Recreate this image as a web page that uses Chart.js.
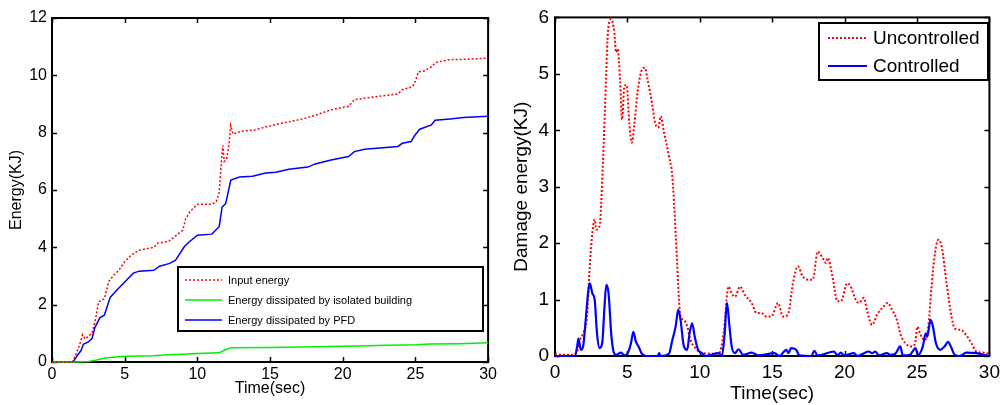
<!DOCTYPE html>
<html>
<head>
<meta charset="utf-8">
<script src="https://cdn.jsdelivr.net/npm/chart.js@4.4.1/dist/chart.umd.min.js"></script>
<style>
    html, body { margin: 0; padding: 0; background: #fff; }
    .box { position: absolute; top: 0; height: 405px; }
    #leftBox { left: 0; width: 500px; }
    #rightBox { left: 500px; width: 505px; }
</style>
</head>
<body>
<div class="box" id="leftBox"><canvas id="energyChart"></canvas></div>
<div class="box" id="rightBox"><canvas id="damageChart"></canvas></div>
<script>
// Left panel: cumulative energy, [time (sec), energy (KJ)]
const inputEnergy = [
    [0, 0], [1.4, 0], [1.6, 0.2], [1.9, 0.6], [2.1, 0.95], [2.3, 0.8], [2.5, 0.9], [2.75, 1.0],
    [3.0, 1.5], [3.2, 2.1], [3.6, 2.2], [3.9, 2.8], [4.2, 3.0], [4.6, 3.2], [5.0, 3.5], [5.5, 3.75],
    [6.0, 3.9], [7.0, 4.0], [7.3, 4.15], [8.0, 4.2], [8.5, 4.4], [9.0, 4.6], [9.2, 5.0], [9.5, 5.25],
    [10.0, 5.5], [11.0, 5.5], [11.3, 5.6], [11.5, 5.9], [11.65, 7.0], [11.75, 7.55], [11.85, 7.0],
    [12.0, 7.05], [12.15, 7.5], [12.3, 8.25], [12.45, 7.95], [13.0, 8.05], [14.0, 8.1], [14.7, 8.2],
    [15.8, 8.33], [17.0, 8.45], [17.9, 8.57], [19.2, 8.8], [20.4, 8.92], [20.8, 9.15], [21.5, 9.2],
    [23.0, 9.3], [23.8, 9.35], [24.1, 9.5], [24.8, 9.6], [25.0, 9.8], [25.2, 10.12], [25.6, 10.15],
    [26.1, 10.3], [26.4, 10.45], [27.4, 10.55], [28.0, 10.55], [30, 10.6]
];
const buildingEnergy = [
    [0, 0], [1.5, 0], [2.5, 0.02], [3.0, 0.06], [3.5, 0.12], [4.0, 0.16], [5.0, 0.2], [6.0, 0.21],
    [7.0, 0.22], [8.0, 0.25], [9.0, 0.27], [10.0, 0.3], [11.5, 0.32], [11.9, 0.42], [12.3, 0.5],
    [15.0, 0.51], [18.0, 0.53], [20.0, 0.55], [21.0, 0.56], [23.0, 0.58], [25.0, 0.6], [26.0, 0.63],
    [28.0, 0.64], [30, 0.67]
];
const pfdEnergy = [
    [0, 0], [1.45, 0], [1.7, 0.2], [2.0, 0.4], [2.15, 0.62], [2.5, 0.7], [2.75, 0.82], [2.95, 1.2],
    [3.3, 1.55], [3.6, 1.63], [4.0, 2.25], [4.45, 2.5], [4.9, 2.74], [5.25, 2.92], [5.6, 3.1],
    [6.0, 3.17], [7.0, 3.2], [7.4, 3.34], [8.1, 3.44], [8.5, 3.55], [9.1, 4.02], [9.35, 4.15],
    [10.0, 4.42], [11.0, 4.46], [11.5, 4.72], [11.7, 5.4], [11.95, 5.53], [12.3, 6.35], [12.9, 6.45],
    [13.8, 6.48], [14.7, 6.59], [15.4, 6.62], [16.3, 6.72], [17.6, 6.8], [18.1, 6.91], [19.2, 7.05],
    [20.4, 7.17], [20.8, 7.34], [21.5, 7.42], [23.8, 7.52], [24.1, 7.63], [24.7, 7.69], [24.95, 7.9],
    [25.3, 8.12], [26.1, 8.27], [26.35, 8.43], [27.4, 8.48], [28.3, 8.53], [30, 8.57]
];

// Right panel: damage energy, [time (sec), energy (KJ)]
const uncontrolled = [
    [0, 0.02], [1.0, 0.02], [1.5, 0.05], [1.71, 0.28], [1.94, 0.4], [2.21, 0.7], [2.4, 1.59],
    [2.58, 2.18], [2.74, 2.42], [2.85, 2.24], [3.08, 2.3], [3.3, 3.36], [3.54, 5.02], [3.65, 5.73],
    [3.88, 5.97], [4.1, 5.73], [4.22, 5.38], [4.33, 5.44], [4.5, 4.85], [4.63, 4.19], [4.79, 4.79],
    [4.95, 4.8], [5.13, 4.13], [5.3, 3.78], [5.47, 4.08], [5.7, 4.67], [5.93, 5.02], [6.2, 5.11],
    [6.39, 4.9], [6.73, 4.43], [6.91, 4.13], [7.14, 4.05], [7.3, 4.25], [7.53, 3.96], [7.87, 3.54],
    [8.1, 3.19], [8.33, 2.18], [8.56, 1.0], [8.67, 0.7], [8.9, 0.64], [9.13, 0.52], [9.36, 0.28],
    [9.7, 0.14], [10.15, 0.05], [11.3, 0.04], [11.64, 0.4], [11.98, 1.23], [12.2, 1.11], [12.43, 1.05],
    [12.78, 1.23], [13.12, 1.08], [13.58, 0.94], [13.92, 0.76], [14.26, 0.76], [14.6, 0.7],
    [14.94, 0.7], [15.4, 0.94], [15.74, 0.7], [16.08, 0.73], [16.43, 1.29], [16.77, 1.59],
    [17.1, 1.41], [17.57, 1.35], [17.8, 1.35], [18.14, 1.85], [18.48, 1.74], [18.71, 1.65],
    [18.82, 1.74], [19.16, 1.41], [19.5, 0.97], [19.74, 0.97], [20.19, 1.29], [20.42, 1.23],
    [20.76, 1.0], [20.99, 0.94], [21.33, 1.03], [21.56, 0.79], [21.9, 0.55], [22.24, 0.73],
    [22.7, 0.88], [22.97, 0.94], [23.27, 0.82], [23.61, 0.64], [23.84, 0.4], [24.18, 0.23],
    [24.64, 0.17], [24.87, 0.23], [25.03, 0.52], [25.2, 0.4], [25.55, 0.28], [25.78, 0.52],
    [26.0, 1.23], [26.24, 1.82], [26.47, 2.06], [26.7, 1.94], [27.04, 1.29], [27.38, 0.7],
    [27.6, 0.49], [28.06, 0.46], [28.4, 0.37], [28.75, 0.23], [29.09, 0.08], [29.55, 0.06], [30, 0.04]
];
const controlled = [
    [0, 0], [1.37, 0], [1.53, 0.17], [1.62, 0.31], [1.78, 0.11], [1.94, 0.17], [2.12, 0.64],
    [2.28, 1.11], [2.4, 1.29], [2.58, 1.11], [2.74, 1.0], [2.9, 0.4], [3.08, 0.14], [3.26, 0.23],
    [3.42, 0.88], [3.54, 1.26], [3.7, 1.11], [3.88, 0.4], [4.04, 0.08], [4.22, 0.02], [4.56, 0.06],
    [4.79, 0.01], [5.02, 0.05], [5.25, 0.23], [5.41, 0.43], [5.59, 0.25], [5.77, 0.17], [6.0, 0.04],
    [6.27, 0], [7.1, 0], [7.19, 0.05], [7.3, 0], [7.87, 0.04], [8.1, 0.28], [8.33, 0.52], [8.51, 0.82],
    [8.67, 0.64], [8.9, 0.17], [9.13, 0.11], [9.29, 0.4], [9.47, 0.58], [9.65, 0.34], [9.88, 0.11],
    [10.15, 0.05], [10.4, 0], [11.3, 0.05], [11.52, 0], [11.7, 0.34], [11.88, 0.94], [12.05, 0.52],
    [12.2, 0.17], [12.43, 0.05], [12.66, 0.12], [13.0, 0.02], [13.58, 0.06], [14.03, 0.01],
    [15.17, 0.05], [15.5, 0], [15.97, 0.11], [16.13, 0.05], [16.3, 0.14], [16.65, 0.11], [16.88, 0.01],
    [17.7, 0], [17.91, 0.09], [18.14, 0.01], [19.28, 0.08], [19.5, 0.01], [19.74, 0.06], [19.96, 0.01],
    [20.65, 0.05], [20.88, 0], [21.67, 0.08], [21.9, 0.05], [22.13, 0.08], [22.36, 0.01], [22.93, 0.05],
    [23.16, 0.02], [23.5, 0.04], [23.84, 0.17], [24.02, 0.01], [24.5, 0.02], [24.9, 0.14], [25.06, 0.01],
    [25.4, 0.17], [25.6, 0.4], [25.7, 0.34], [25.94, 0.64], [26.1, 0.52], [26.3, 0.23], [26.6, 0.11],
    [26.9, 0.17], [27.15, 0.25], [27.38, 0.14], [27.6, 0.02], [27.95, 0], [28.4, 0.06], [29.1, 0.05], [30, 0]
];

const FONT = '"Liberation Sans", Arial, sans-serif';
const toPoints = arr => arr.map(p => ({ x: p[0], y: p[1] }));

// MATLAB-like frame: full box with inward ticks (under the lines), boxed legend on top
const matlabFrame = {
    id: 'matlabFrame',
    beforeDatasetsDraw(chart) {
        const { ctx, chartArea: a } = chart;
        const xs = chart.scales.x, ys = chart.scales.y;
        ctx.save();
        ctx.strokeStyle = '#000';
        ctx.lineWidth = 1.5;
        ctx.beginPath();
        xs.ticks.forEach(t => {
            const px = Math.round(xs.getPixelForValue(t.value)) + 0.5;
            ctx.moveTo(px, a.bottom); ctx.lineTo(px, a.bottom - 5);
            ctx.moveTo(px, a.top); ctx.lineTo(px, a.top + 5);
        });
        ys.ticks.forEach(t => {
            const py = Math.round(ys.getPixelForValue(t.value)) + 0.5;
            ctx.moveTo(a.left, py); ctx.lineTo(a.left + 5, py);
            ctx.moveTo(a.right, py); ctx.lineTo(a.right - 5, py);
        });
        ctx.stroke();
        ctx.lineWidth = 2;
        ctx.strokeRect(a.left, a.top, a.right - a.left, a.bottom - a.top);
        ctx.restore();
    },
    afterDatasetsDraw(chart, args, opts) {
        const ctx = chart.ctx;
        const L = opts.legend;
        ctx.save();
        ctx.fillStyle = '#fff';
        ctx.fillRect(L.x, L.y, L.w, L.h);
        ctx.lineWidth = 2;
        ctx.strokeStyle = '#000';
        ctx.strokeRect(L.x, L.y, L.w, L.h);
        ctx.font = L.size + 'px ' + FONT;
        ctx.textBaseline = 'middle';
        ctx.textAlign = 'left';
        chart.data.datasets.forEach((ds, i) => {
            const yy = L.y + L.first + i * L.gap;
            ctx.strokeStyle = ds.borderColor;
            ctx.lineWidth = ds.borderWidth;
            ctx.setLineDash(ds.borderDash || []);
            ctx.beginPath();
            ctx.moveTo(L.x + L.line0, yy);
            ctx.lineTo(L.x + L.line1, yy);
            ctx.stroke();
            ctx.setLineDash([]);
            ctx.fillStyle = '#000';
            ctx.fillText(ds.label, L.x + L.text, yy + 1);
        });
        ctx.restore();
    }
};

function axisOptions(size, min, max, step, title, titlePad, fitSize, tickPad) {
    return {
        type: 'linear',
        min: min,
        max: max,
        grid: { display: false, drawTicks: false },
        border: { display: false },
        ticks: { stepSize: step, padding: tickPad, color: '#000', font: { family: FONT, size: size } },
        title: { display: true, text: title, color: '#000', padding: titlePad, font: { family: FONT, size: size } },
        afterFit: fitSize
    };
}

new Chart(document.getElementById('energyChart'), {
    type: 'line',
    data: {
        datasets: [
            { label: 'Input energy', data: toPoints(inputEnergy), borderColor: '#ff0000', borderWidth: 1.5, borderDash: [2, 2], clip: 3 },
            { label: 'Energy dissipated by isolated building', data: toPoints(buildingEnergy), borderColor: '#00ee00', borderWidth: 1.5, clip: 3 },
            { label: 'Energy dissipated by PFD', data: toPoints(pfdEnergy), borderColor: '#0000ff', borderWidth: 1.5, clip: 3 }
        ]
    },
    options: {
        responsive: true,
        maintainAspectRatio: false,
        animation: false,
        elements: { point: { radius: 0 }, line: { tension: 0 } },
        layout: { padding: { top: 18, right: 9, left: 0, bottom: 0 } },
        plugins: {
            legend: { display: false },
            tooltip: { enabled: false },
            matlabFrame: { legend: { x: 178, y: 267, w: 305, h: 64, first: 13, gap: 20, line0: 7, line1: 44, text: 50, size: 11 } }
        },
        scales: {
            x: axisOptions(16, 0, 30, 5, 'Time(sec)', { top: 0, bottom: 7 }, s => { s.height = 43; }, 3),
            y: axisOptions(16, 0, 12, 2, 'Energy(KJ)', { top: 7, bottom: 0 }, s => { s.width = 52; }, 5)
        }
    },
    plugins: [matlabFrame]
});

new Chart(document.getElementById('damageChart'), {
    type: 'line',
    data: {
        datasets: [
            { label: 'Uncontrolled', data: toPoints(uncontrolled), borderColor: '#ff0000', borderWidth: 2, borderDash: [2, 2], order: 1, clip: 3 },
            { label: 'Controlled', data: toPoints(controlled), borderColor: '#0000ff', borderWidth: 2.2, order: 0, clip: 3 }
        ]
    },
    options: {
        responsive: true,
        maintainAspectRatio: false,
        animation: false,
        elements: { point: { radius: 0 }, line: { cubicInterpolationMode: 'monotone' } },
        layout: { padding: { top: 16, right: 12, left: 0, bottom: 0 } },
        plugins: {
            legend: { display: false },
            tooltip: { enabled: false },
            matlabFrame: { legend: { x: 319, y: 23, w: 169, h: 57, first: 15, gap: 28, line0: 9, line1: 48, text: 54, size: 19 } }
        },
        scales: {
            x: axisOptions(19, 0, 30, 5, 'Time(sec)', { top: 0, bottom: 0 }, s => { s.height = 49; }, 5),
            y: axisOptions(19, 0, 6, 1, 'Damage energy(KJ)', { top: 10, bottom: 0 }, s => { s.width = 55; }, 6)
        }
    },
    plugins: [matlabFrame]
});
</script>
</body>
</html>
